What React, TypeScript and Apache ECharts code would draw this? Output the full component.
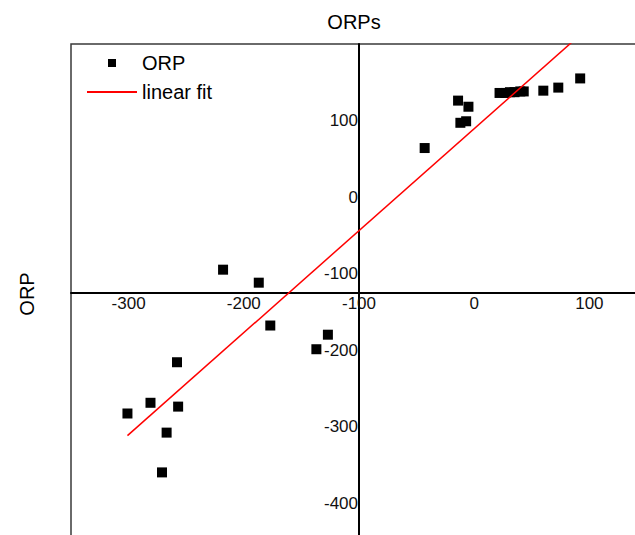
import React, { useEffect, useRef } from "react";
import * as echarts from "echarts";

// Scatter data (ORP)
const orpX = [-301, -281, -271, -267, -258, -257, -218, -187, -177, -137, -127, -43, -14, -12, -7, -5, 22, 27, 31, 35, 40, 43, 60, 73, 92];
const orpY = [-283, -269, -360, -308, -216, -274, -95, -112, -168, -199, -180, 64, 126, 97, 99, 118, 136, 136, 137, 137, 138, 138, 139, 143, 155];

// Linear fit end points
const fitX = [-301, 92];
const fitY = [-312, 212];

// Axis ranges and crossing positions
const X_MIN = -350;
const X_MAX = 150;
const Y_MIN = -500;
const Y_MAX = 200;
const X_AXIS_AT_Y = -125;
const Y_AXIS_AT_X = -100;

const FONT = "'Liberation Sans', Arial, sans-serif";

export default function App() {
  const ref = useRef<HTMLDivElement>(null);

  useEffect(() => {
    document.body.style.margin = "0";
    if (!ref.current) return;
    const chart = echarts.init(ref.current, undefined, { renderer: "svg" });

    const gridLeft = 71;
    const gridTop = 44;
    const gridWidth = (X_MAX - X_MIN) * 1.152;
    const gridHeight = (Y_MAX - Y_MIN) * 0.765;
    const xAxisPix = gridTop + ((Y_MAX - X_AXIS_AT_Y) / (Y_MAX - Y_MIN)) * gridHeight;
    const xOffset = xAxisPix - (gridTop + gridHeight);
    const yOffset = -((Y_AXIS_AT_X - X_MIN) / (X_MAX - X_MIN)) * gridWidth;

    chart.setOption({
      animation: false,
      grid: {
        left: gridLeft,
        top: gridTop,
        width: gridWidth,
        height: gridHeight,
        show: true,
        borderColor: "#3a3a3a",
        borderWidth: 1.5,
        backgroundColor: "transparent",
        containLabel: false,
        outerBoundsMode: "none",
      },
      legend: {
        orient: "vertical",
        left: 86,
        top: 53,
        padding: 0,
        itemWidth: 50,
        itemHeight: 8,
        itemGap: 9,
        symbolKeepAspect: true,
        textStyle: { fontSize: 20, color: "#000", fontFamily: FONT },
        data: [
          { name: "ORP", icon: "path://M0,0L10,0L10,10L0,10Z" },
          { name: "linear fit", itemStyle: { opacity: 0 } },
        ],
      },
      xAxis: {
        type: "value",
        min: X_MIN,
        max: X_MAX,
        splitNumber: 5,
        position: "bottom",
        offset: xOffset,
        axisLine: { show: true, onZero: false, lineStyle: { color: "#000", width: 2 } },
        axisTick: { show: false },
        splitLine: { show: false },
        axisLabel: {
          fontSize: 17,
          color: "#111",
          fontFamily: FONT,
          margin: 2,
          showMinLabel: false,
          showMaxLabel: false,
        },
      },
      yAxis: {
        type: "value",
        min: Y_MIN,
        max: Y_MAX,
        interval: 100,
        position: "left",
        offset: yOffset,
        axisLine: { show: true, onZero: false, lineStyle: { color: "#000", width: 2 } },
        axisTick: { show: false },
        splitLine: { show: false },
        axisLabel: {
          fontSize: 17,
          color: "#111",
          fontFamily: FONT,
          margin: 1,
          showMinLabel: false,
          showMaxLabel: false,
        },
      },
      graphic: [
        {
          type: "text",
          x: 354,
          y: 22,
          style: {
            text: "ORPs",
            fill: "#000",
            font: `20px ${FONT}`,
            align: "center",
            verticalAlign: "middle",
            textAlign: "center",
            textVerticalAlign: "middle",
          },
        },
        {
          type: "text",
          x: 27,
          y: 294,
          rotation: Math.PI / 2,
          style: {
            text: "ORP",
            fill: "#000",
            font: `20px ${FONT}`,
            align: "center",
            verticalAlign: "middle",
            textAlign: "center",
            textVerticalAlign: "middle",
          },
        },
      ],
      series: [
        {
          name: "ORP",
          type: "scatter",
          symbol: "rect",
          symbolSize: 10,
          symbolKeepAspect: true,
          itemStyle: { color: "#000", opacity: 1 },
          data: orpX.map((x, i) => [x, orpY[i]]),
          z: 2,
        },
        {
          name: "linear fit",
          type: "line",
          symbol: "none",
          clip: true,
          lineStyle: { color: "#ff0000", width: 1.5 },
          itemStyle: { color: "#ff0000" },
          data: fitX.map((x, i) => [x, fitY[i]]),
          z: 3,
        },
      ],
    });

    return () => chart.dispose();
  }, []);

  return <div ref={ref} style={{ width: 635, height: 535 }} />;
}
